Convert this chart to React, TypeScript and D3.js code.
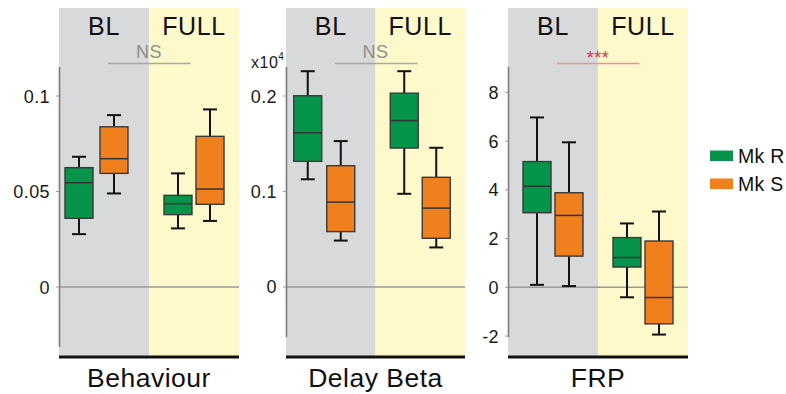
import React from "react";
import * as d3 from "d3";

// ---- data ----
const conditions = ["BL", "FULL"];
const seriesNames = ["Mk R", "Mk S"];
const panelTitles = ["Behaviour", "Delay Beta", "FRP"];

// each box: [whiskerLow, q1, median, q3, whiskerHigh], order: MkR BL, MkS BL, MkR FULL, MkS FULL
const behaviourBoxes = [
  [0.0277, 0.036, 0.0546, 0.0625, 0.0682],
  [0.049, 0.0595, 0.0672, 0.0839, 0.09],
  [0.0307, 0.0379, 0.0436, 0.048, 0.0595],
  [0.0346, 0.0433, 0.0513, 0.0789, 0.093],
];
const delayBetaBoxes = [
  [0.1128, 0.1316, 0.1615, 0.2003, 0.226],
  [0.0486, 0.058, 0.0889, 0.127, 0.1528],
  [0.0976, 0.1455, 0.1743, 0.203, 0.226],
  [0.0414, 0.051, 0.0826, 0.1149, 0.1458],
];
const frpBoxes = [
  [0.1, 3.06, 4.15, 5.16, 6.97],
  [0.05, 1.28, 2.95, 3.88, 5.95],
  [-0.41, 0.83, 1.22, 2.04, 2.62],
  [-1.94, -1.5, -0.42, 1.9, 3.11],
];

const behaviourTicks = [0, 0.05, 0.1];
const behaviourTickLabels = ["0", "0.05", "0.1"];
const delayBetaTicks = [0, 0.1, 0.2];
const delayBetaTickLabels = ["0", "0.1", "0.2"];
const frpTicks = [-2, 0, 2, 4, 6, 8];
const frpTickLabels = ["-2", "0", "2", "4", "6", "8"];

const behaviourDomain = [-0.0314, 0.1152];
const delayBetaDomain = [-0.0524, 0.2304];
const frpDomain = [-2.04, 9.04];

const significance = ["NS", "NS", "***"];

// ---- style / layout ----
const W = 786;
const H = 394;
const FONT = "'Liberation Sans', Arial, Helvetica, sans-serif";
const GREEN = "#06944a";
const ORANGE = "#f07f1d";
const GRAY_BG = "#d8d9da";
const YELLOW_BG = "#fdf9cb";
const colors = [GREEN, ORANGE];

const panels = [
  { left: 59, width: 180, axisBottom: 347, boxes: behaviourBoxes, ticks: behaviourTicks, labels: behaviourTickLabels, domain: behaviourDomain, blShift: -7.5, blSpread: 35, sigColor: "#8e8e8e", lineColor: "#a9a9a9", exp: false },
  { left: 286, width: 179, axisBottom: 337, boxes: delayBetaBoxes, ticks: delayBetaTicks, labels: delayBetaTickLabels, domain: delayBetaDomain, blShift: -6.5, blSpread: 33, sigColor: "#8e8e8e", lineColor: "#a9a9a9", exp: true },
  { left: 508, width: 180, axisBottom: 337, boxes: frpBoxes, ticks: frpTicks, labels: frpTickLabels, domain: frpDomain, blShift: 0, blSpread: 32, sigColor: "#e0314a", lineColor: "#ec8f98", exp: false },
];

const TOP = 8;
const BOTTOM = 357;
const AXIS_TOP = 67;
const BOX_W = 28;
const CAP_W = 14;

function Panel({ p, idx }: { p: any; idx: number }) {
  const y = d3.scaleLinear().domain(p.domain).range([p.axisBottom, AXIS_TOP]);
  const band = d3.scaleBand().domain(conditions).range([p.left, p.left + p.width]).padding(0);
  const bw = band.bandwidth();
  const y0 = y(0);

  const boxX = (ci: number, si: number) => {
    const start = band(conditions[ci]) as number;
    const shift = ci === 0 ? p.blShift : 0;
    const spread = ci === 0 ? p.blSpread : 32;
    const pt = d3
      .scalePoint()
      .domain(seriesNames)
      .range([start + bw / 2 - spread / 2 + shift, start + bw / 2 + spread / 2 + shift]);
    return pt(seriesNames[si]) as number;
  };

  const center = p.left + p.width / 2;
  return (
    <g>
      {conditions.map((c, i) => (
        <rect key={c} x={band(c)} y={TOP} width={bw} height={BOTTOM - TOP} fill={i === 0 ? GRAY_BG : YELLOW_BG} />
      ))}
      {conditions.map((c) => (
        <text key={"t" + c} x={(band(c) as number) + bw / 2} y={35} textAnchor="middle" fontSize={25} letterSpacing={0.6} fill="#111" fontFamily={FONT}>
          {c}
        </text>
      ))}
      {/* significance */}
      <line x1={p.left + 49} x2={p.left + 131.5} y1={63.5} y2={63.5} stroke={p.lineColor} strokeWidth={1.5} />
      <text x={center} y={significance[idx] === "***" ? 64 : 58} textAnchor="middle" fontSize={18} letterSpacing={0.5} fill={p.sigColor} fontFamily={FONT}>
        {significance[idx]}
      </text>
      {/* zero line */}
      <line x1={p.left} x2={p.left + p.width} y1={y0} y2={y0} stroke="#9a9a98" strokeWidth={1.5} />
      {/* axis */}
      <line x1={p.left + 0.5} x2={p.left + 0.5} y1={AXIS_TOP} y2={p.axisBottom} stroke="#7d7d7d" strokeWidth={1.6} />
      {p.ticks.map((t: number, i: number) => (
        <g key={"tk" + i}>
          <line x1={p.left - 3} x2={p.left} y1={y(t)} y2={y(t)} stroke="#9a9a9a" strokeWidth={1} />
          <text x={p.left - 9} y={y(t) + 6.5} textAnchor="end" fontSize={18} letterSpacing={0.4} fill="#1a1a1a" fontFamily={FONT}>
            {p.labels[i]}
          </text>
        </g>
      ))}
      {p.exp && (
        <text x={p.left - 35} y={68} fontSize={16} letterSpacing={0.5} fill="#1a1a1a" fontFamily={FONT}>
          x10
          <tspan fontSize={10} dy={-8}>4</tspan>
        </text>
      )}
      {/* boxes */}
      {p.boxes.map((b: number[], k: number) => {
        const ci = Math.floor(k / 2);
        const si = k % 2;
        const cx = boxX(ci, si);
        const [lo, q1, med, q3, hi] = b;
        return (
          <g key={"b" + k}>
            <line x1={cx} x2={cx} y1={y(hi)} y2={y(q3)} stroke="#111" strokeWidth={2} />
            <line x1={cx} x2={cx} y1={y(q1)} y2={y(lo)} stroke="#111" strokeWidth={2} />
            <line x1={cx - CAP_W / 2} x2={cx + CAP_W / 2} y1={y(hi)} y2={y(hi)} stroke="#111" strokeWidth={2} />
            <line x1={cx - CAP_W / 2} x2={cx + CAP_W / 2} y1={y(lo)} y2={y(lo)} stroke="#111" strokeWidth={2} />
            <rect x={cx - BOX_W / 2} y={y(q3)} width={BOX_W} height={y(q1) - y(q3)} fill={colors[si]} stroke="#3a3a3a" strokeWidth={1.4} />
            <line x1={cx - BOX_W / 2} x2={cx + BOX_W / 2} y1={y(med)} y2={y(med)} stroke="#333" strokeWidth={1.5} />
          </g>
        );
      })}
      {/* bottom line */}
      <line x1={p.left} x2={p.left + p.width} y1={BOTTOM} y2={BOTTOM} stroke="#111" strokeWidth={3} />
      <text x={center} y={387} textAnchor="middle" fontSize={26.5} letterSpacing={0.5} fill="#111" fontFamily={FONT}>
        {panelTitles[idx]}
      </text>
    </g>
  );
}

export default function App() {
  return (
    <svg width={W} height={H} viewBox={`0 0 ${W} ${H}`} style={{ position: "absolute", left: 0, top: 0, background: "#fff" }}>
      <rect x={0} y={0} width={W} height={H} fill="#fff" />
      {panels.map((p, i) => (
        <Panel key={i} p={p} idx={i} />
      ))}
      {seriesNames.map((s, i) => (
        <g key={s}>
          <rect x={710} y={i === 0 ? 150.5 : 178.5} width={23} height={10.5} fill={colors[i]} />
          <text x={738} y={(i === 0 ? 156 : 184) + 7} fontSize={19.5} letterSpacing={0.3} fill="#111" fontFamily={FONT}>
            {s}
          </text>
        </g>
      ))}
    </svg>
  );
}
